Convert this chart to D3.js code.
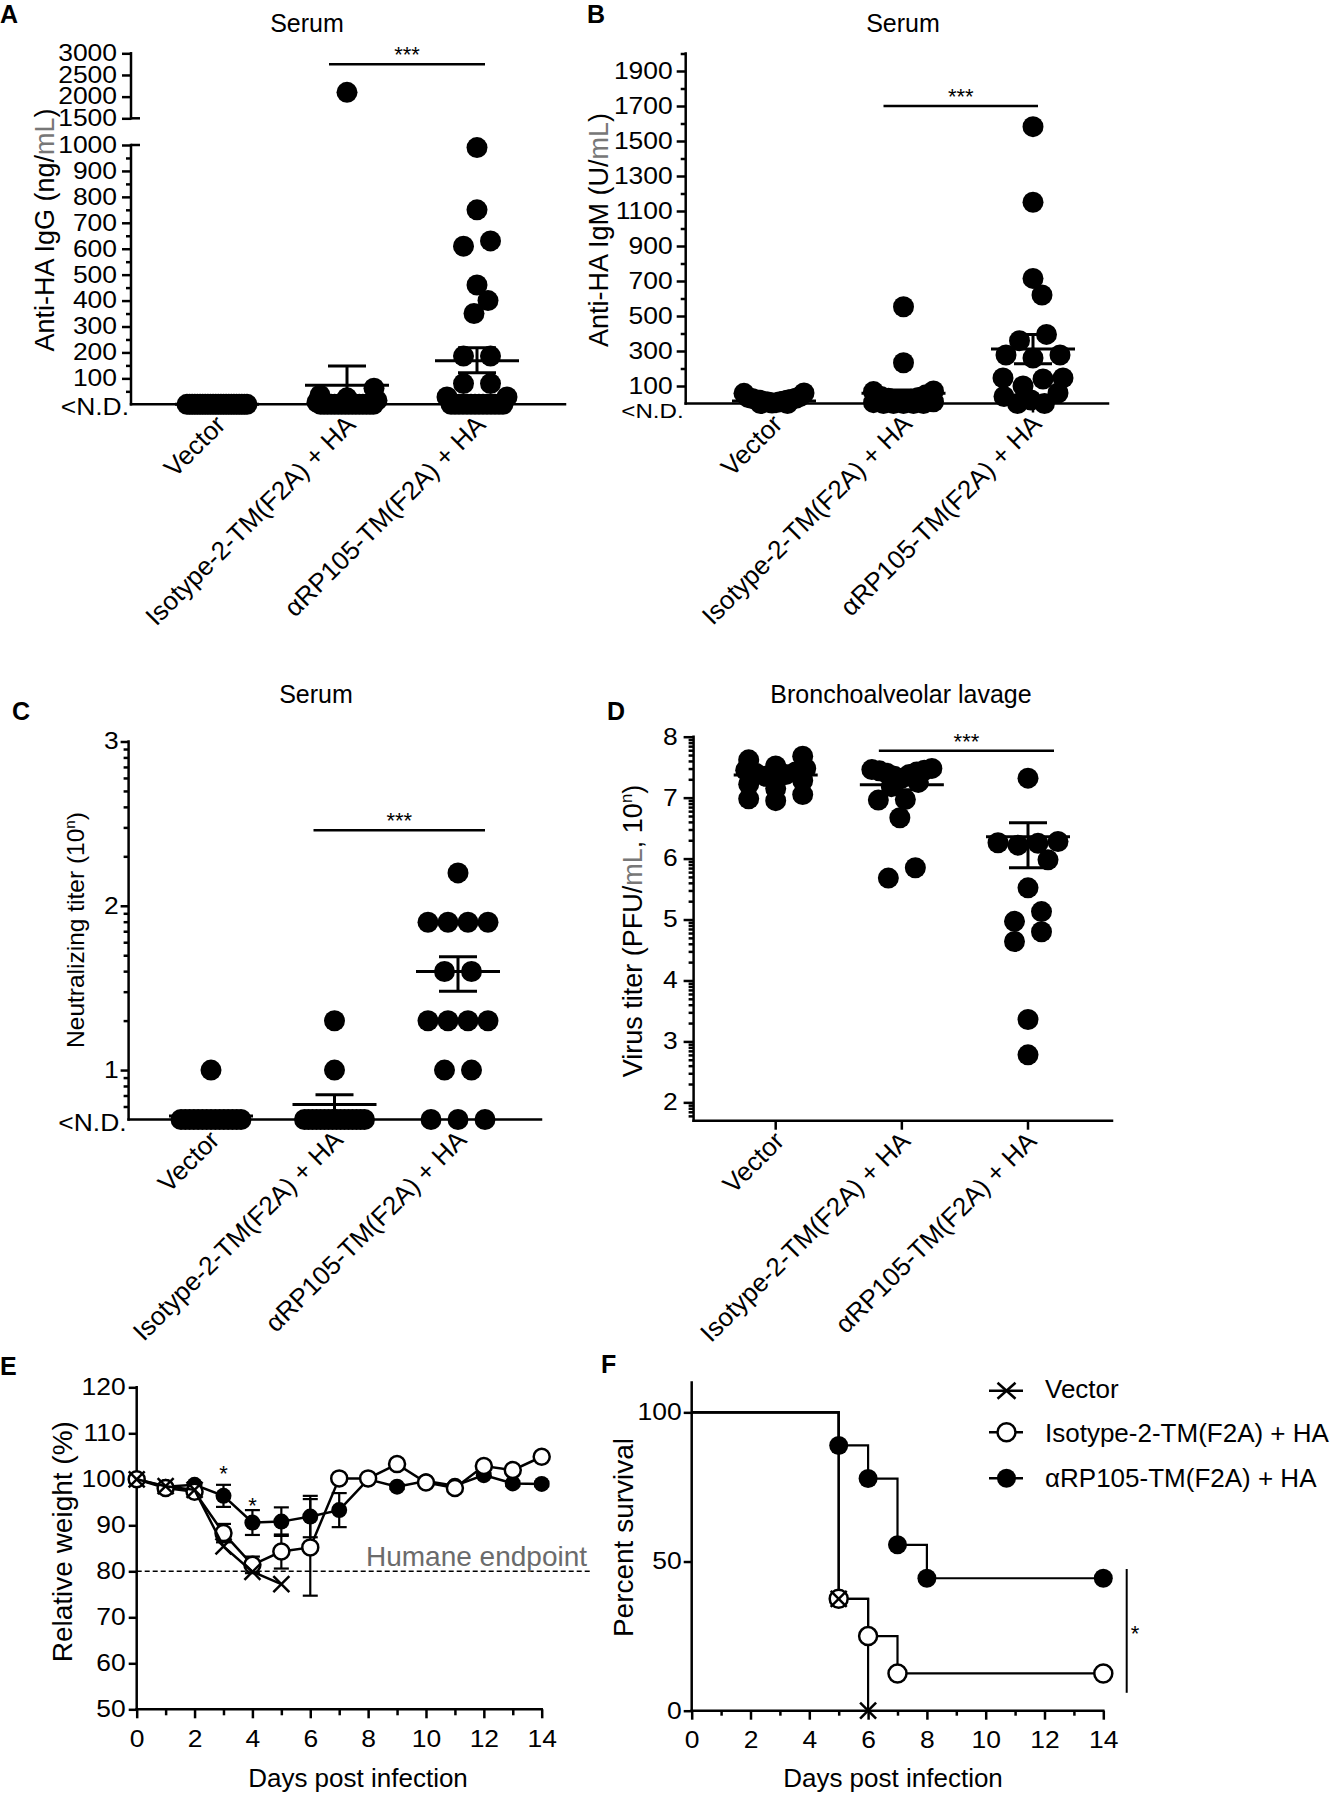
<!DOCTYPE html>
<html><head><meta charset="utf-8">
<script src="https://cdn.jsdelivr.net/npm/d3@7/dist/d3.min.js"></script>
<style>
html,body{margin:0;padding:0;background:#fff;}
svg{display:block;font-family:Arial,"Liberation Sans",Helvetica,sans-serif;}
</style></head>
<body><svg id="fig" width="1331" height="1794"></svg>
<script>
// ================= DATA =================
const groups = ["Vector", "Isotype-2-TM(F2A) + HA", "\u03B1RP105-TM(F2A) + HA"];

// A: anti-HA IgG (ng/mL); 0 = <N.D.
const igGVector  = [0,0,0,0,0,0,0,0,0,0,0,0,0,0,0,0,0,0,0,0,0,0,0,0];
const igGIsotype = [2100,62,35,25,15,8,0,0,0,0,0,0,0,0,0,0,0,0,0,0,0,0];
const igGRP105   = [990,750,630,610,460,400,350,186,186,80,80,28,28,0,0,0,0,0,0,0,0,0,0,0,0,0,0];
const igGMean = [0, 73, 168];
const igGHigh = [0, 148, 218];
const igGLow  = [0, 0, 122];
const igGTicksLower = [100,200,300,400,500,600,700,800,900,1000];
const igGTicksUpper = [1500,2000,2500,3000];

// B: anti-HA IgM (U/mL)
const igMVector  = [60,58,40,35,30,28,25,22,20,18,15,12,10,8,5,3,0,0];
const igMIsotype = [553,233,72,68,50,40,35,30,25,20,15,10,5,0,0,0,0,0];
const igMRP105   = [1582,1150,715,620,395,359,277,277,260,146,146,140,100,60,40,20,0,0];
const igMMean = [15, 58, 311];
const igMHigh = [20, 77, 395];
const igMLow  = [10, 40, 227];
const igMTicks = [100,300,500,700,900,1100,1300,1500,1700,1900];

// C: neutralizing titer (log10); 0.699 = <N.D.
const ntVector  = [1.0,0.699,0.699,0.699,0.699,0.699,0.699,0.699,0.699,0.699,0.699,0.699,0.699,0.699,0.699,0.699];
const ntIsotype = [1.3,1.0,0.699,0.699,0.699,0.699,0.699,0.699,0.699,0.699,0.699,0.699,0.699,0.699,0.699,0.699,0.699,0.699];
const ntRP105   = [2.2,1.9,1.9,1.9,1.9,1.6,1.6,1.3,1.3,1.3,1.3,1.0,1.0,0.699,0.699,0.699];
const ntMean = [0.72, 0.79, 1.60];
const ntHigh = [0.72, 0.85, 1.69];
const ntLow  = [0.72, 0.72, 1.48];
const ntTicks = [1, 2, 3];

// D: BAL virus titer (log10 PFU/mL)
const vtVector  = [7.68,7.62,7.52,7.48,7.45,7.42,7.40,7.38,7.35,7.32,7.28,7.22,7.15,7.05,6.98,6.95];
const vtIsotype = [7.48,7.46,7.45,7.44,7.42,7.40,7.38,7.35,7.32,7.25,7.18,6.97,6.96,6.67,5.85,5.68];
const vtRP105   = [7.32,6.28,6.26,6.25,6.22,5.98,5.52,5.13,4.97,4.80,4.64,3.36,2.78];
const vtMean = [7.37, 7.21, 6.36];
const vtHigh = [7.42, 7.28, 6.59];
const vtLow  = [7.32, 7.13, 5.85];
const vtTicks = [2,3,4,5,6,7,8];

// E: relative weight (%)
const days = [0,1,2,3,4,5,6,7,8,9,10,11,12,13,14];
const wRP105   = [100,98.4,98.8,96.4,90.6,90.8,91.9,93.3,100,98.4,99.6,98.6,100.9,99.1,99.0];
const wRP105Err= [0,0.5,0.5,2.4,2.7,3.1,4.5,3.7,0,0.5,0.5,0.5,0.5,0.5,0.5];
const wIsotype = [100,98.1,97.3,88.3,81.4,84.3,85.2,100.2,100.2,103.3,99.3,98.1,102.9,102.0,104.9];
const wIsotypeErr = [0,0.5,0.5,2.0,1.8,3.7,10.5,0,0,0.5,0.5,0.5,0.5,0.5,0.5];
const wVectorDays = [0,1,2,3,4,5];
const wVector  = [100,98.5,97.7,85.4,79.9,77.2];
const weightTicks = [50,60,70,80,90,100,110,120];
const dayTicks = [0,2,4,6,8,10,12,14];
const humaneEndpoint = 80;

// F: survival (%)
const survRP105   = [[0,100],[5,88.9],[6,77.8],[7,55.6],[8,44.4],[14,44.4]];
const survIsotype = [[0,100],[5,37.5],[6,25],[7,12.5],[14,12.5]];
const survVector  = [[0,100],[5,37.5],[6,0]];
const survTicks = [0,50,100];

// ================= DRAWING =================
const svg = d3.select('#fig');
const FONT = 'Arial, "Liberation Sans", Helvetica, sans-serif';
const AX_W = 2.5;
const TICK_FS = 23, TICK_SX = 1.15;
const fmtInt = d3.format('d');

function styleAxis(g) {
  g.attr('font-family', FONT).attr('font-size', TICK_FS);
  g.select('.domain').remove();
  g.selectAll('.tick line').attr('stroke', '#000').attr('stroke-width', AX_W);
  g.selectAll('.tick text').attr('fill', '#000').each(function () {
    const t = d3.select(this);
    const x = +t.attr('x') || 0;
    t.attr('x', x / TICK_SX).attr('transform', `scale(${TICK_SX},1)`);
  });
}
function ln(x1, y1, x2, y2, w = AX_W, cap = 'square') {
  return svg.append('line').attr('x1', x1).attr('y1', y1).attr('x2', x2).attr('y2', y2)
    .attr('stroke', '#000').attr('stroke-width', w).attr('stroke-linecap', cap);
}
function txt(x, y, s, size, anchor = 'start', weight = 'normal', fill = '#000') {
  return svg.append('text').attr('x', x).attr('y', y).attr('font-size', size)
    .attr('text-anchor', anchor).attr('font-weight', weight).attr('fill', fill).text(s);
}
function ndLabel(axisX, axisY, dy = 11, size = TICK_FS) {
  svg.append('text').attr('transform', `translate(${axisX - 2},${axisY + dy}) scale(${TICK_SX},1)`)
    .attr('text-anchor', 'end').attr('font-size', size).text('<N.D.');
}
function yLabel(bx, cy, parts, size = 26) {
  const t = svg.append('text').attr('transform', `translate(${bx},${cy}) rotate(-90)`)
    .attr('text-anchor', 'middle').attr('font-size', size);
  parts.forEach(p => {
    const ts = t.append('tspan').text(p.t);
    if (p.fill) ts.attr('fill', p.fill);
    if (p.sup) ts.attr('font-size', size * 0.62).attr('dy', -size * 0.38);
    if (p.unsup) ts.attr('dy', size * 0.38);
  });
}
function stars(x, y, s, size = 22) { txt(x, y, s, size, 'middle'); }

function swarm(values, cx, yScale, r, maxHalf) {
  const pts = values.map(v => ({ v, y: yScale(v) })).sort((a, b) => a.y - b.y);
  const clusters = [];
  for (const p of pts) {
    const c = clusters[clusters.length - 1];
    if (c && p.y - c[0].y < r) c.push(p); else clusters.push([p]);
  }
  const placed = [];
  const minD = 2 * r * 0.9;
  for (const c of clusters) {
    const k = c.length;
    const sp = k > 1 ? Math.min(27, 2 * maxHalf / (k - 1)) : 0;
    const offs = d3.range(k).map(i => (i - (k - 1) / 2) * sp)
      .sort((a, b) => Math.abs(a) - Math.abs(b) || a - b);
    const byVal = c.slice().sort((a, b) => a.v - b.v);
    const ext = d3.max(offs, Math.abs);
    const maxShift = Math.max(0, Math.floor(maxHalf - ext));
    const cands = [0];
    for (let s = 1; s <= maxShift; s++) cands.push(s, -s);
    let bestS = 0, bestScore = -1;
    for (const s of cands) {
      let m = Infinity;
      byVal.forEach((p, i) => {
        const x = offs[i] + s;
        for (const q of placed) { const d = Math.hypot(q.dx - x, q.y - p.y); if (d < m) m = d; }
      });
      if (m >= minD) { bestS = s; break; }
      if (m > bestScore + 0.5) { bestScore = m; bestS = s; }
    }
    byVal.forEach((p, i) => { p.dx = offs[i] + bestS; placed.push(p); });
  }
  return placed.map(p => ({ v: p.v, x: cx + p.dx, y: p.y }));
}

function dotPanel(cfg) {
  const { x, y, axisX, axisY, xEnd, series, mean, hi, lo, r = 10.5, maxHalf = 30, labelDx = 10, labelDy = 22 } = cfg;
  ln(axisX, axisY, xEnd, axisY);
  groups.forEach(g => ln(x(g), axisY, x(g), axisY + 9, AX_W, 'butt'));
  series.forEach((vals, i) => {
    const cx = x(groups[i]);
    svg.append('g').selectAll('circle').data(swarm(vals, cx, y, r, maxHalf)).join('circle')
      .attr('cx', d => d.x).attr('cy', d => d.y).attr('r', r).attr('fill', '#000');
  });
  groups.forEach((g, i) => {
    const cx = x(g);
    ln(cx - 42, y(mean[i]), cx + 42, y(mean[i]), 3, 'butt');
    if (hi[i] > mean[i] || lo[i] < mean[i]) {
      ln(cx, y(hi[i]), cx, y(lo[i]), 3, 'butt');
      if (hi[i] > mean[i]) ln(cx - 19, y(hi[i]), cx + 19, y(hi[i]), 3, 'butt');
      if (lo[i] < mean[i] && lo[i] > y.invertMin) ln(cx - 19, y(lo[i]), cx + 19, y(lo[i]), 3, 'butt');
    }
  });
  groups.forEach(g => {
    svg.append('text').attr('transform', `translate(${x(g) + labelDx},${axisY + labelDy}) rotate(-45)`)
      .attr('text-anchor', 'end').attr('font-size', 26).text(g);
  });
}

// ---------- Panel A ----------
{
  const yAL = d3.scaleLinear().domain([0, 1000]).range([404.3, 145]);
  const yAU = d3.scaleLinear().domain([1500, 3000]).range([118.3, 53.3]);
  const yA = v => v <= 1000 ? yAL(v) : yAU(v);
  yA.invertMin = 0;
  const xA = d3.scalePoint().domain(groups).range([217, 477]);
  const ax = 131;
  ln(ax, yAU(3000), ax, yAU(1500));
  ln(ax, yAL(1000), ax, yAL(0));
  svg.append('g').attr('transform', `translate(${ax},0)`).call(d3.axisLeft(yAU).tickValues(igGTicksUpper).tickSize(9).tickPadding(5).tickFormat(fmtInt)).call(styleAxis);
  svg.append('g').attr('transform', `translate(${ax},0)`).call(d3.axisLeft(yAL).tickValues(igGTicksLower).tickSize(9).tickPadding(5).tickFormat(fmtInt)).call(styleAxis);
  svg.append('g').attr('transform', `translate(${ax},0)`).call(d3.axisLeft(yAL).tickValues(d3.range(50, 1000, 100)).tickSize(5).tickFormat('')).call(styleAxis);
  ln(ax, yAU(1500), ax + 9, yAU(1500), AX_W, 'butt');
  ln(ax, yAL(1000), ax + 9, yAL(1000), AX_W, 'butt');
  ndLabel(ax, yAL(0));
  dotPanel({ x: xA, y: yA, axisX: ax, axisY: yAL(0), xEnd: 565,
    series: [igGVector, igGIsotype, igGRP105], mean: igGMean, hi: igGHigh, lo: igGLow });
  const sy = yAU(2750), s1 = xA(groups[1]) - 18, s2 = xA(groups[2]) + 8;
  ln(s1, sy, s2, sy, 2.5, 'butt');
  stars((s1 + s2) / 2, sy - 2, '***');
  txt(307, 31.7, 'Serum', 25, 'middle');
  txt(0, 23, 'A', 25, 'start', 'bold');
  yLabel(54, 230, [{ t: 'Anti-HA IgG (ng/' }, { t: 'mL', fill: '#777' }, { t: ')' }], 27);
}

// ---------- Panel B ----------
{
  const yB = d3.scaleLinear().domain([0, 2000]).range([403.5, 53.5]);
  yB.invertMin = 0;
  const xB = d3.scalePoint().domain(groups).range([774, 1033]);
  const ax = 685.7;
  ln(ax, yB(2000), ax, yB(0));
  svg.append('g').attr('transform', `translate(${ax},0)`).call(d3.axisLeft(yB).tickValues(igMTicks).tickSize(9).tickPadding(4).tickFormat(fmtInt)).call(styleAxis);
  svg.append('g').attr('transform', `translate(${ax},0)`).call(d3.axisLeft(yB).tickValues(d3.range(200, 2001, 200)).tickSize(5).tickFormat('')).call(styleAxis);
  ndLabel(ax, yB(0), 14, 21);
  dotPanel({ x: xB, y: yB, axisX: ax, axisY: yB(0), xEnd: 1108,
    series: [igMVector, igMIsotype, igMRP105], mean: igMMean, hi: igMHigh, lo: igMLow });
  const sy = yB(1700), s1 = xB(groups[1]) - 20, s2 = xB(groups[2]) + 5;
  ln(s1, sy, s2, sy, 2.5, 'butt');
  stars((s1 + s2) / 2, sy - 2, '***');
  txt(903, 31.7, 'Serum', 25, 'middle');
  txt(587, 23, 'B', 25, 'start', 'bold');
  yLabel(608, 230, [{ t: 'Anti-HA IgM (U/' }, { t: 'mL', fill: '#777' }, { t: ')' }], 27);
}

function logMinors(lo, hi) {
  const out = [];
  for (let m = Math.floor(lo); m < hi; m++) for (let k = 2; k <= 9; k++) {
    const v = m + Math.log10(k);
    if (v >= lo - 1e-6 && v <= hi) out.push(v);
  }
  return out;
}

// ---------- Panel C ----------
{
  const ND = 0.699;
  const yC = d3.scaleLinear().domain([ND, 3]).range([1119.5, 741.5]);
  yC.invertMin = ND;
  const xC = d3.scalePoint().domain(groups).range([211, 458]);
  const ax = 128.6;
  ln(ax, yC(3), ax, yC(ND));
  svg.append('g').attr('transform', `translate(${ax},0)`).call(d3.axisLeft(yC).tickValues(ntTicks).tickSize(8).tickPadding(2).tickFormat(fmtInt)).call(styleAxis);
  svg.append('g').attr('transform', `translate(${ax},0)`).call(d3.axisLeft(yC).tickValues(logMinors(ND, 3)).tickSize(5).tickFormat('')).call(styleAxis);
  ndLabel(ax, yC(ND));
  dotPanel({ x: xC, y: yC, axisX: ax, axisY: yC(ND), xEnd: 541,
    series: [ntVector, ntIsotype, ntRP105], mean: ntMean, hi: ntHigh, lo: ntLow });
  const sy = yC(2.46), s1 = xC(groups[1]) - 21, s2 = xC(groups[2]) + 27;
  ln(s1, sy, s2, sy, 2.5, 'butt');
  stars((s1 + s2) / 2, sy - 2, '***');
  txt(316, 703, 'Serum', 25, 'middle');
  txt(12, 720, 'C', 25, 'start', 'bold');
  yLabel(84, 930, [{ t: 'Neutralizing  titer (10' }, { t: 'n', sup: true }, { t: ')', unsup: true }], 24.5);
}

// ---------- Panel D ----------
{
  const LO = 1.699;
  const yD = d3.scaleLinear().domain([LO, 8]).range([1120.7, 736.7]);
  yD.invertMin = LO;
  const xD = d3.scalePoint().domain(groups).range([775.7, 1028]);
  const ax = 693.6;
  ln(ax, yD(8), ax, yD(LO));
  svg.append('g').attr('transform', `translate(${ax},0)`).call(d3.axisLeft(yD).tickValues(vtTicks).tickSize(10).tickPadding(6).tickFormat(fmtInt)).call(styleAxis);
  svg.append('g').attr('transform', `translate(${ax},0)`).call(d3.axisLeft(yD).tickValues(logMinors(LO, 8)).tickSize(5).tickFormat('')).call(styleAxis);
  dotPanel({ x: xD, y: yD, axisX: ax, axisY: yD(LO), xEnd: 1112,
    series: [vtVector, vtIsotype, vtRP105], mean: vtMean, hi: vtHigh, lo: vtLow });
  const sy = yD(7.77), s1 = xD(groups[1]) - 23, s2 = xD(groups[2]) + 26;
  ln(s1, sy, s2, sy, 2.5, 'butt');
  stars((s1 + s2) / 2, sy - 2, '***');
  txt(901, 703, 'Bronchoalveolar lavage', 25, 'middle');
  txt(607, 720, 'D', 25, 'start', 'bold');
  yLabel(642, 931, [{ t: 'Virus titer (PFU/' }, { t: 'mL', fill: '#777' }, { t: ', 10' }, { t: 'n', sup: true }, { t: ')', unsup: true }], 27);
}

// ---------- Panel E ----------
{
  const xE = d3.scaleLinear().domain([0, 14]).range([136.7, 541.7]);
  const yE = d3.scaleLinear().domain([50, 120]).range([1709.3, 1387.3]);
  const ax = xE(0), ay = yE(50);
  ln(ax, yE(120), ax, ay);
  ln(ax, ay, xE(14), ay);
  svg.append('g').attr('transform', `translate(${ax},0)`).call(d3.axisLeft(yE).tickValues(weightTicks).tickSize(8).tickPadding(3).tickFormat(fmtInt)).call(styleAxis);
  svg.append('g').attr('transform', `translate(0,${ay})`).call(d3.axisBottom(xE).tickValues(dayTicks).tickSize(9).tickPadding(12).tickFormat(fmtInt)).call(styleAxis);
  svg.append('g').attr('transform', `translate(0,${ay})`).call(d3.axisBottom(xE).tickValues(d3.range(1, 14, 2)).tickSize(6).tickFormat('')).call(styleAxis);
  ln(ax, yE(humaneEndpoint), 591, yE(humaneEndpoint), 1.5, 'butt').attr('stroke-dasharray', '5,3');
  txt(366, 1566, 'Humane endpoint', 28, 'start', 'normal', '#6b6b6b');

  const lineGen = d3.line().x(d => xE(d[0])).y(d => yE(d[1]));
  const err = (vals, errs) => {
    days.forEach((d, i) => {
      if (!errs[i]) return;
      const hiV = vals[i] + errs[i], loV = vals[i] - errs[i];
      ln(xE(d), yE(hiV), xE(d), yE(loV), 2.2, 'butt');
      ln(xE(d) - 7.5, yE(hiV), xE(d) + 7.5, yE(hiV), 2.2, 'butt');
      ln(xE(d) - 7.5, yE(loV), xE(d) + 7.5, yE(loV), 2.2, 'butt');
    });
  };
  err(wRP105, wRP105Err);
  svg.append('path').attr('d', lineGen(days.map((d, i) => [d, wRP105[i]]))).attr('fill', 'none').attr('stroke', '#000').attr('stroke-width', 2.5);
  svg.append('g').selectAll('circle').data(days).join('circle')
    .attr('cx', d => xE(d)).attr('cy', (d, i) => yE(wRP105[i])).attr('r', 8).attr('fill', '#000');
  err(wIsotype, wIsotypeErr);
  svg.append('path').attr('d', lineGen(days.map((d, i) => [d, wIsotype[i]]))).attr('fill', 'none').attr('stroke', '#000').attr('stroke-width', 2.5);
  svg.append('g').selectAll('circle').data(days).join('circle')
    .attr('cx', d => xE(d)).attr('cy', (d, i) => yE(wIsotype[i])).attr('r', 8).attr('fill', '#fff').attr('stroke', '#000').attr('stroke-width', 2.5);
  svg.append('path').attr('d', lineGen(wVectorDays.map((d, i) => [d, wVector[i]]))).attr('fill', 'none').attr('stroke', '#000').attr('stroke-width', 2.5);
  wVectorDays.forEach((d, i) => {
    const cx = xE(d), cy = yE(wVector[i]), s = 8;
    ln(cx - s, cy - s, cx + s, cy + s, 2.5, 'butt');
    ln(cx - s, cy + s, cx + s, cy - s, 2.5, 'butt');
  });
  txt(xE(3), yE(wRP105[3] + wRP105Err[3]) - 4, '*', 22, 'middle');
  txt(xE(4), yE(wRP105[4] + wRP105Err[4]) + 3, '*', 22, 'middle');

  txt(358, 1786.7, 'Days post infection', 26, 'middle');
  txt(0, 1375, 'E', 25, 'start', 'bold');
  yLabel(72, 1541.7, [{ t: 'Relative weight (%)' }], 28);
}

// ---------- Panel F ----------
{
  const xF = d3.scaleLinear().domain([0, 14]).range([691.7, 1103.3]);
  const yF = d3.scaleLinear().domain([0, 110]).range([1710.7, 1382.5]);
  const ax = xF(0), ay = yF(0);
  ln(ax, yF(110), ax, ay);
  ln(ax, ay, xF(14), ay);
  svg.append('g').attr('transform', `translate(${ax},0)`).call(d3.axisLeft(yF).tickValues(survTicks).tickSize(8).tickPadding(2).tickFormat(fmtInt)).call(styleAxis);
  svg.append('g').attr('transform', `translate(0,${ay})`).call(d3.axisBottom(xF).tickValues(dayTicks).tickSize(9).tickPadding(12).tickFormat(fmtInt)).call(styleAxis);
  svg.append('g').attr('transform', `translate(0,${ay})`).call(d3.axisBottom(xF).tickValues(d3.range(1, 14, 2)).tickSize(5).tickFormat('')).call(styleAxis);

  const step = d3.line().x(d => xF(d[0])).y(d => yF(d[1])).curve(d3.curveStepAfter);
  [survRP105, survIsotype, survVector].forEach(s => {
    svg.append('path').attr('d', step(s)).attr('fill', 'none').attr('stroke', '#000').attr('stroke-width', 2.2);
  });
  svg.append('g').selectAll('circle').data(survRP105.slice(1)).join('circle')
    .attr('cx', d => xF(d[0])).attr('cy', d => yF(d[1])).attr('r', 9.5).attr('fill', '#000');
  svg.append('g').selectAll('circle').data(survIsotype.slice(1)).join('circle')
    .attr('cx', d => xF(d[0])).attr('cy', d => yF(d[1])).attr('r', 9).attr('fill', '#fff').attr('stroke', '#000').attr('stroke-width', 2.5);
  survVector.slice(1).forEach(d => {
    const cx = xF(d[0]), cy = yF(d[1]), s = 8;
    ln(cx - s, cy - s, cx + s, cy + s, 2.5, 'butt');
    ln(cx - s, cy + s, cx + s, cy - s, 2.5, 'butt');
  });
  ln(1126.7, yF(47.5), 1126.7, yF(6), 2, 'butt');
  txt(1135, 1641, '*', 22, 'middle');

  const legY = [1390.7, 1432.3, 1478.3], legTxtY = [1398.3, 1441.7, 1487.3];
  groups.forEach((g, i) => {
    ln(989, legY[i], 1023, legY[i], 2.5, 'butt');
    const cx = 1006.5, cy = legY[i];
    if (i === 0) {
      ln(cx - 9, cy - 8, cx + 9, cy + 8, 2.5, 'butt');
      ln(cx - 9, cy + 8, cx + 9, cy - 8, 2.5, 'butt');
    } else if (i === 1) {
      svg.append('circle').attr('cx', cx).attr('cy', cy).attr('r', 9).attr('fill', '#fff').attr('stroke', '#000').attr('stroke-width', 2.5);
    } else {
      svg.append('circle').attr('cx', cx).attr('cy', cy).attr('r', 9.5).attr('fill', '#000');
    }
    txt(1045, legTxtY[i], g, 26);
  });

  txt(893, 1786.7, 'Days post infection', 26, 'middle');
  txt(601, 1373, 'F', 25, 'start', 'bold');
  yLabel(633, 1537.5, [{ t: 'Percent survival' }], 28);
}
</script></body></html>
